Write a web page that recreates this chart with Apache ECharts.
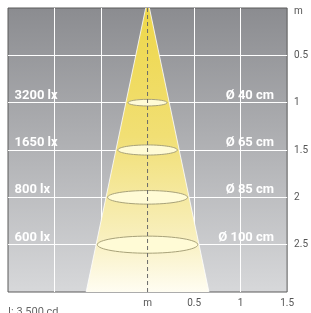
<!DOCTYPE html>
<html>
<head>
<meta charset="utf-8">
<script src="https://cdn.jsdelivr.net/npm/echarts@6/dist/echarts.min.js"></script>
<style>
  html, body { margin: 0; padding: 0; background: #fff; }
  #chart { width: 311px; height: 313px; }
</style>
</head>
<body>
<div id="chart"></div>
<script>
// distances below the luminaire (m) and what is measured there
const distances = [1, 1.5, 2, 2.5]
const luxLabels = ['3200 lx', '1650 lx', '800 lx', '600 lx']
const diameterLabels = ['Ø 40 cm', 'Ø 65 cm', 'Ø 85 cm', 'Ø 100 cm']
// half width of the lit spot drawn at each distance (m)
const spotHalfWidths = [0.21, 0.32, 0.43, 0.54]
// light cone outline [x (m), depth (m)]
const coneOutline = [[-0.02, 0], [0.02, 0], [0.66, 3], [-0.66, 3]]
const xTicks = [-1.5, -1, -0.5, 0, 0.5, 1, 1.5]
const yTicks = [0, 0.5, 1, 1.5, 2, 2.5, 3]
const intensityText = 'I: 3 500 cd'

const chart = echarts.init(document.getElementById('chart'))

const labelFont = 'bold 13px Roboto, "DejaVu Sans", sans-serif'

const coneSeries = {
	type: 'custom',
	silent: true,
	z: 2,
	data: [0],
	renderItem: (params, api) => {
		const pts = coneOutline.map(p => api.coord(p))
		return {
			type: 'group',
			children: [
				{
					type: 'polygon',
					shape: { points: pts },
					style: {
						fill: new echarts.graphic.LinearGradient(0, 0, 0, 1, [
							{ offset: 0, color: '#eed749' },
							{ offset: 0.45, color: '#f1df74' },
							{ offset: 0.8, color: '#f8efbc' },
							{ offset: 1, color: '#fffdf2' },
						]),
					},
				},
				{
					type: 'polyline',
					shape: { points: [pts[0], pts[3]] },
					style: { stroke: 'rgba(255,255,255,0.8)', lineWidth: 1, fill: null },
				},
				{
					type: 'polyline',
					shape: { points: [pts[1], pts[2]] },
					style: { stroke: 'rgba(255,255,255,0.8)', lineWidth: 1, fill: null },
				},
			],
		}
	},
}

const spotSeries = {
	type: 'custom',
	silent: true,
	z: 3,
	data: distances.map((d, i) => [d, spotHalfWidths[i]]),
	renderItem: (params, api) => {
		const depth = api.value(0)
		const half = api.value(1)
		const c = api.coord([0, depth])
		const e = api.coord([half, depth])
		const rx = e[0] - c[0]
		return {
			type: 'ellipse',
			shape: { cx: c[0], cy: c[1], rx: rx, ry: rx * 0.17 },
			style: { fill: '#fffbd6', stroke: '#a8a27a', lineWidth: 1 },
		}
	},
}

const axisLineSeries = {
	type: 'custom',
	silent: true,
	z: 4,
	data: [0],
	renderItem: (params, api) => {
		const a = api.coord([0, 0])
		const b = api.coord([0, 3])
		return {
			type: 'line',
			shape: { x1: a[0], y1: a[1], x2: b[0], y2: b[1] },
			style: { stroke: '#6a6a6a', lineWidth: 1, lineDash: [4, 3] },
		}
	},
}

const textSeries = {
	type: 'custom',
	silent: true,
	z: 5,
	data: distances.map((d, i) => [d, i]),
	renderItem: (params, api) => {
		const depth = api.value(0) - 0.075
		const i = api.value(1)
		const l = api.coord([-1.43, depth])
		const r = api.coord([1.36, depth])
		return {
			type: 'group',
			children: [
				{
					type: 'text',
					x: l[0],
					y: l[1],
					style: { text: luxLabels[i], fill: '#fff', font: labelFont, align: 'left', verticalAlign: 'middle' },
				},
				{
					type: 'text',
					x: r[0],
					y: r[1],
					style: { text: diameterLabels[i], fill: '#fff', font: labelFont, align: 'right', verticalAlign: 'middle' },
				},
			],
		}
	},
}

chart.setOption({
	animation: false,
	grid: {
		left: 8,
		right: 19,
		top: 8,
		bottom: 21,
		show: true,
		borderColor: '#5a5a5a',
		borderWidth: 1,
		backgroundColor: new echarts.graphic.LinearGradient(0, 0, 0, 1, [
			{ offset: 0, color: '#8b8c90' },
			{ offset: 1, color: '#d7d8da' },
		]),
	},
	xAxis: {
		type: 'value',
		min: xTicks[0],
		max: xTicks[xTicks.length - 1],
		interval: 0.5,
		axisLine: { show: false },
		axisTick: { show: false },
		splitLine: { show: true, showMinLine: false, showMaxLine: false, lineStyle: { color: '#ffffff', width: 1 } },
		axisLabel: {
			margin: 6,
			color: '#555',
			fontSize: 10,
			fontFamily: 'Roboto, sans-serif',
			formatter: v => (v < 0 ? '' : v === 0 ? 'm' : String(v)),
		},
	},
	yAxis: {
		type: 'value',
		inverse: true,
		position: 'right',
		min: yTicks[0],
		max: yTicks[yTicks.length - 1],
		interval: 0.5,
		axisLine: { show: false },
		axisTick: { show: false },
		splitLine: { show: true, showMinLine: false, showMaxLine: false, lineStyle: { color: '#ffffff', width: 1 } },
		axisLabel: {
			margin: 7,
			color: '#555',
			fontSize: 10,
			fontFamily: 'Roboto, sans-serif',
			formatter: v => (v === 0 ? '{m|m}' : v === 3 ? '' : String(v)),
			rich: { m: { color: '#555', fontSize: 10, fontFamily: 'Roboto, sans-serif', padding: [6, 0, 0, 0] } },
		},
	},
	graphic: [
		{
			type: 'text',
			left: 8,
			top: 307,
			style: { text: intensityText, fill: '#666', font: '11px Roboto, sans-serif' },
		},
	],
	series: [coneSeries, spotSeries, axisLineSeries, textSeries],
})
</script>
</body>
</html>
